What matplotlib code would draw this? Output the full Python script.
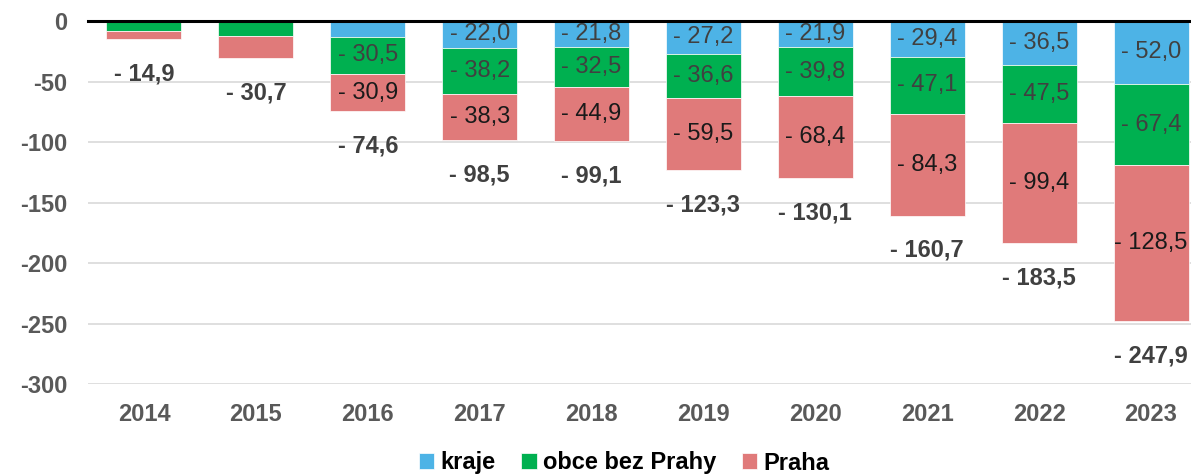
import matplotlib
matplotlib.use("Agg")
import matplotlib.pyplot as plt
import numpy as np

years = ["2014", "2015", "2016", "2017", "2018", "2019", "2020", "2021", "2022", "2023"]
kraje = [0.0, 0.0, 13.2, 22.0, 21.8, 27.2, 21.9, 29.4, 36.5, 52.0]
obce = [8.6, 12.0, 30.5, 38.2, 32.5, 36.6, 39.8, 47.1, 47.5, 67.4]
praha = [6.3, 18.7, 30.9, 38.3, 44.9, 59.5, 68.4, 84.3, 99.4, 128.5]
totals = [14.9, 30.7, 74.6, 98.5, 99.1, 123.3, 130.1, 160.7, 183.5, 247.9]
yticks = [0, -50, -100, -150, -200, -250, -300]

series_names = ["kraje", "obce bez Prahy", "Praha"]
colors = ["#4DB3E6", "#00B050", "#E07A7A"]
label_colors = ["#404040", "#404040", "#1a1a1a"]

plt.rcParams['font.family'] = ['Liberation Sans', 'DejaVu Sans']
FS = 17

fig = plt.figure(figsize=(11.91, 4.76), dpi=100)
ax = fig.add_axes([88/1191, 1-384/476, 1-88/1191, (384-21)/476])

x = np.arange(len(years))
w = 0.67
bottom = np.zeros(len(years))
series = [kraje, obce, praha]
for vals, name, col, lc in zip(series, series_names, colors, label_colors):
    v = -np.array(vals)
    ax.bar(x, v, w, bottom=bottom, color=col, label=name, zorder=3,
           edgecolor="white", linewidth=0.5)
    for i, val in enumerate(vals):
        if val >= 15 and not (i < 2):
            cy = bottom[i] + v[i] / 2
            ax.text(x[i], cy, "- " + f"{val:.1f}".replace(".", ","),
                    ha="center", va="center", fontsize=FS, color=lc, zorder=4)
    bottom = bottom + v

for i, t in enumerate(totals):
    ax.annotate("- " + f"{t:.1f}".replace(".", ","), (x[i], -t),
                xytext=(0, -25), textcoords="offset points",
                ha="center", va="center", fontsize=FS, fontweight="bold",
                color="#404040", zorder=4)

ax.set_ylim(-300, 0)
ax.set_xlim(-0.5, 9.5 - 16/111.9)
ax.set_yticks(yticks)
ax.set_yticklabels([str(t) for t in yticks])
ax.set_xticks(x)
ax.set_xticklabels(years)
for lab in ax.get_xticklabels() + ax.get_yticklabels():
    lab.set_fontweight("bold")
    lab.set_color("#595959")
    lab.set_fontsize(FS)
ax.tick_params(axis="y", length=0, pad=15)
ax.tick_params(axis="x", length=0, pad=14)
for s in ax.spines.values():
    s.set_visible(False)
ax.grid(axis="y", color="#D9D9D9", linewidth=1.2, zorder=0)
ax.axhline(0, color="black", linewidth=2.2, zorder=5, clip_on=False)

leg = fig.legend(loc="center", bbox_to_anchor=(624/1191, 1-463/476), ncol=3,
                 frameon=False, handlelength=0.65, handleheight=0.65,
                 handletextpad=0.25, columnspacing=1.1,
                 prop={"weight": "bold", "size": FS})
for t in leg.get_texts():
    t.set_color("#000000")

fig.savefig("out.png", dpi=100)
